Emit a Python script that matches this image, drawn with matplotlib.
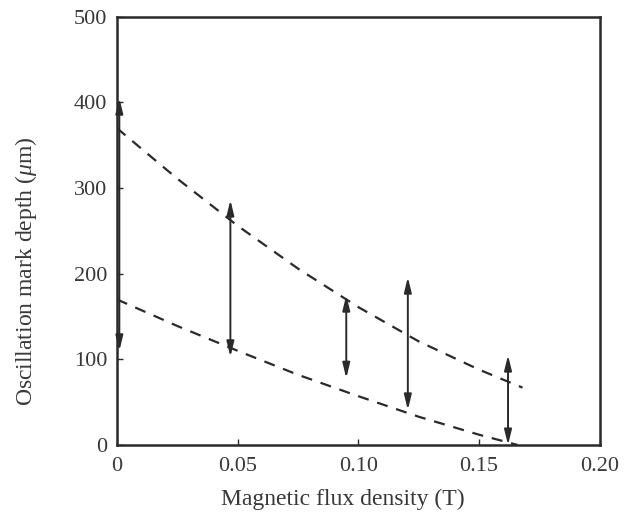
import matplotlib
matplotlib.use("Agg")
import matplotlib.pyplot as plt

# Data
upper_x = [0.0, 0.025, 0.05, 0.075, 0.10, 0.125, 0.15, 0.168]
upper_y = [370, 311, 256, 206, 161, 121, 88, 67]
lower_x = [0.0, 0.025, 0.05, 0.075, 0.10, 0.125, 0.15, 0.166]
lower_y = [170, 139, 110, 82, 57, 33, 12, 0]

arrow_x = [0.001, 0.047, 0.095, 0.1205, 0.162]
arrow_low = [110, 103, 78, 41, 0]
arrow_high = [405, 286, 175, 196, 105]

xticks = [0, 0.05, 0.10, 0.15, 0.20]
xtick_labels = ["0", "0.05", "0.10", "0.15", "0.20"]
yticks = [0, 100, 200, 300, 400, 500]

plt.rcParams['font.family'] = ['Liberation Serif', 'DejaVu Serif']
plt.rcParams['mathtext.fontset'] = 'custom'
plt.rcParams['mathtext.it'] = 'Liberation Serif:italic'
plt.rcParams['mathtext.rm'] = 'Liberation Serif'

fig = plt.figure(figsize=(6.32, 5.26), dpi=100)
ax = fig.add_axes([0.185, 0.154, 0.764, 0.814])

ink = '#2a2a2a'
ax.plot(upper_x, upper_y, linestyle=(0, (5, 4)), color=ink, lw=1.6)
ax.plot(lower_x, lower_y, linestyle=(0, (5, 4)), color=ink, lw=1.6)

for x, lo, hi in zip(arrow_x, arrow_low, arrow_high):
    ax.annotate('', xy=(x, hi), xytext=(x, lo),
                arrowprops=dict(arrowstyle='<|-|>,head_width=0.22,head_length=0.9',
                                color=ink, lw=1.4, shrinkA=0, shrinkB=0))

ax.set_xlim(0, 0.20)
ax.set_ylim(0, 500)
ax.set_xticks(xticks)
ax.set_xticklabels(xtick_labels)
ax.set_yticks(yticks)
ax.tick_params(direction='in', length=4, width=1, colors=ink, labelsize=16,
               labelcolor='#383838')
ax.tick_params(axis='x', pad=9)
ax.tick_params(axis='y', pad=7)
for s in ax.spines.values():
    s.set_color(ink)
    s.set_linewidth(1.8)

ax.set_xlabel('Magnetic flux density (T)', fontsize=17, color='#383838')
ax.set_ylabel(r'Oscillation mark depth ($\mu$m)', fontsize=17, color='#383838')
ax.xaxis.label.set_va('center')
ax.yaxis.label.set_va('center')
ax.xaxis.set_label_coords(0.468, -0.128)
ax.yaxis.set_label_coords(-0.188, 0.405)

fig.savefig('out.png', dpi=100)
